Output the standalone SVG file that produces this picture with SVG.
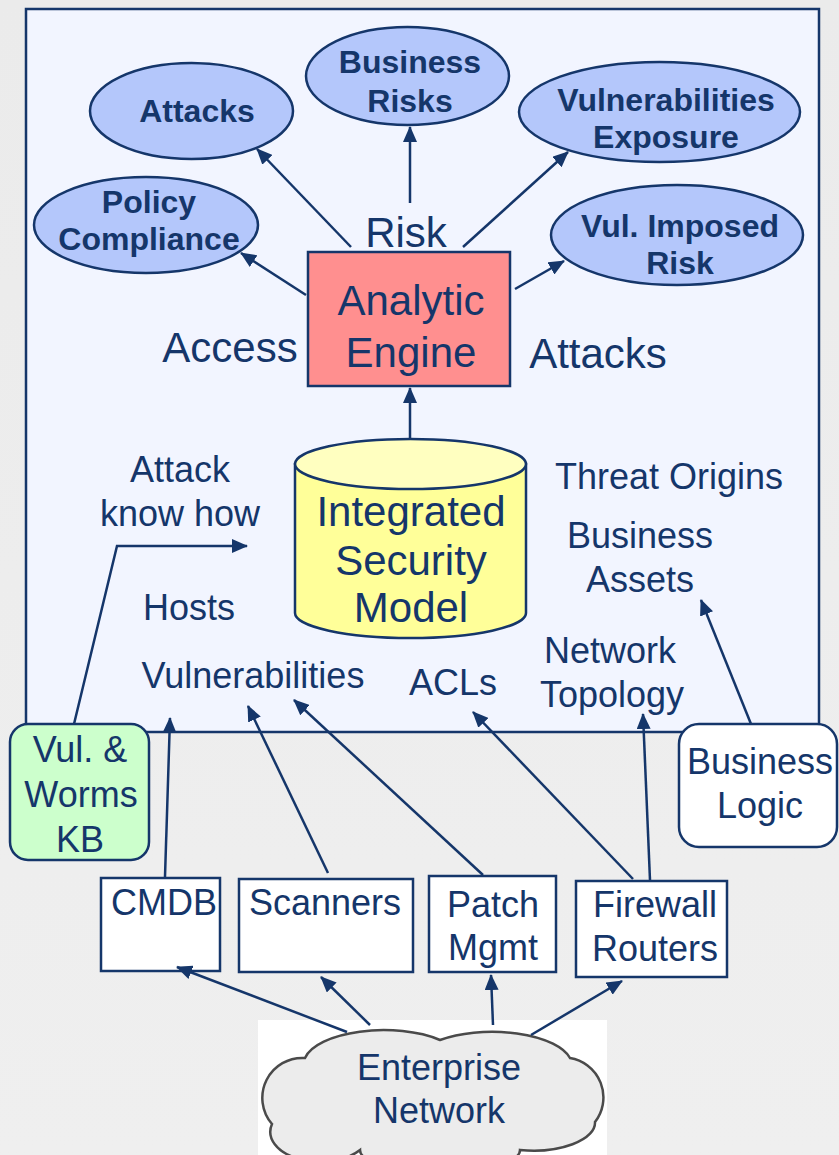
<svg xmlns="http://www.w3.org/2000/svg" width="839" height="1155" viewBox="0 0 839 1155">
<defs>
<linearGradient id="bg" x1="0" y1="0" x2="0" y2="1">
<stop offset="0" stop-color="#ebebeb"/>
<stop offset="1" stop-color="#efefef"/>
</linearGradient>
<marker id="ah" markerUnits="userSpaceOnUse" markerWidth="16" markerHeight="14" viewBox="0 0 16 14" refX="15" refY="7" orient="auto">
<path d="M0,0 L16,7 L0,14 Z" fill="#15366a"/>
</marker>
<style>
.t{font-family:"Liberation Sans",Arial,sans-serif;fill:#15366a;text-anchor:middle}
.b{font-weight:bold;font-size:32px}
.l{font-size:42px}
.m{font-size:36px}
.ell{fill:#b4c7fb;stroke:#15366a;stroke-width:2.5}
.box{fill:#ffffff;stroke:#15366a;stroke-width:2.5}
.c{fill:none;stroke:#15366a;stroke-width:2.5;marker-end:url(#ah)}
</style>
</defs>
<rect width="839" height="1155" fill="url(#bg)"/>
<rect id="panel" x="26" y="9" width="793" height="723" fill="#f2f5ff" stroke="#15366a" stroke-width="2.5"/>

<g id="attacks"><ellipse class="ell" cx="191.5" cy="111" rx="101.5" ry="48"/><text class="t b" x="197" y="122">Attacks</text></g>
<g id="business-risks"><ellipse class="ell" cx="407.5" cy="76" rx="101.5" ry="49"/><text class="t b" x="410" y="73">Business</text><text class="t b" x="410" y="112">Risks</text></g>
<g id="vuln-exposure"><ellipse class="ell" cx="659.5" cy="112" rx="140.5" ry="50"/><text class="t b" x="666" y="111">Vulnerabilities</text><text class="t b" x="666" y="148">Exposure</text></g>
<g id="vul-imposed-risk"><ellipse class="ell" cx="677" cy="235" rx="126" ry="50"/><text class="t b" x="680" y="237">Vul. Imposed</text><text class="t b" x="680" y="274">Risk</text></g>
<g id="policy-compliance"><ellipse class="ell" cx="146" cy="225" rx="112" ry="48"/><text class="t b" x="149" y="213">Policy</text><text class="t b" x="149" y="250">Compliance</text></g>

<g id="analytic-engine"><rect x="308" y="252" width="202" height="134" fill="#ff8f8f" stroke="#15366a" stroke-width="2.5"/><text class="t l" x="411" y="315">Analytic</text><text class="t l" x="411" y="367">Engine</text></g>

<g id="integrated-security-model">
<path d="M295,464 L295,613 A115.5,25 0 0 0 526,613 L526,464 Z" fill="#ffff99" stroke="#15366a" stroke-width="2.5"/>
<ellipse cx="410.5" cy="464" rx="115.5" ry="25" fill="#ffffc0" stroke="#15366a" stroke-width="2.5"/>
<text class="t l" x="411" y="526">Integrated</text><text class="t l" x="411" y="575">Security</text><text class="t l" x="411" y="622">Model</text>
</g>

<g id="labels">
<text class="t l" x="406" y="247">Risk</text>
<text class="t l" x="230" y="362">Access</text>
<text class="t l" x="598" y="368">Attacks</text>
<text class="t m" x="180" y="482">Attack</text>
<text class="t m" x="180" y="526">know how</text>
<text class="t m" x="669" y="489">Threat Origins</text>
<text class="t m" x="640" y="548">Business</text>
<text class="t m" x="640" y="592">Assets</text>
<text class="t m" x="189" y="620">Hosts</text>
<text class="t m" x="253" y="688">Vulnerabilities</text>
<text class="t m" x="453" y="695">ACLs</text>
<text class="t m" x="610" y="663">Network</text>
<text class="t m" x="612" y="707">Topology</text>
</g>

<g id="vul-worms-kb"><rect x="10" y="724" width="139" height="136" rx="18" fill="#ccffcc" stroke="#15366a" stroke-width="2.5"/><text class="t m" x="80" y="762">Vul. &amp;</text><text class="t m" x="81" y="807">Worms</text><text class="t m" x="80" y="852">KB</text></g>
<g id="business-logic"><rect x="679" y="724" width="158" height="123" rx="20" class="box"/><text class="t m" x="760" y="774">Business</text><text class="t m" x="760" y="818">Logic</text></g>

<g id="cmdb"><rect x="101" y="878" width="119" height="93" class="box"/><text class="t m" x="164" y="915">CMDB</text></g>
<g id="scanners"><rect x="239" y="879" width="174" height="93" class="box"/><text class="t m" x="325" y="915">Scanners</text></g>
<g id="patch-mgmt"><rect x="429" y="876" width="127" height="96" class="box"/><text class="t m" x="493" y="917">Patch</text><text class="t m" x="493" y="960">Mgmt</text></g>
<g id="firewall-routers"><rect x="576" y="881" width="151" height="96" class="box"/><text class="t m" x="655" y="917">Firewall</text><text class="t m" x="655" y="961">Routers</text></g>

<g id="enterprise-network">
<rect x="258" y="1020" width="349" height="135" fill="#ffffff"/>
<path d="M305,1058 A80,34 0 0 1 440,1040 A80,34 0 0 1 570,1058 A40,40 0 0 1 595,1122 A62,28 0 0 1 520,1150 A80,22 0 0 1 360,1150 A50,30 0 0 1 272,1124 A40,40 0 0 1 305,1058 Z" fill="#ececec" stroke="#4a4a4a" stroke-width="2.5"/>
<text class="t m" x="439" y="1080">Enterprise</text><text class="t m" x="439" y="1123">Network</text>
</g>

<g id="connectors">
<line class="c" x1="351" y1="247" x2="257" y2="149"/>
<line class="c" x1="306" y1="295" x2="241" y2="253"/>
<line class="c" x1="410" y1="203" x2="410" y2="127"/>
<line class="c" x1="463" y1="247" x2="568" y2="152"/>
<line class="c" x1="515" y1="289" x2="564" y2="261"/>
<line class="c" x1="410" y1="439" x2="410" y2="388"/>
<polyline class="c" points="74,724 117,546 247,546"/>
<line class="c" x1="165" y1="877" x2="170" y2="718"/>
<line class="c" x1="328" y1="873" x2="248" y2="706"/>
<line class="c" x1="483" y1="875" x2="294" y2="700"/>
<line class="c" x1="633" y1="879" x2="473" y2="712"/>
<line class="c" x1="650" y1="880" x2="643" y2="714"/>
<line class="c" x1="751" y1="724" x2="701" y2="600"/>
<line class="c" x1="347" y1="1032" x2="177" y2="967"/>
<line class="c" x1="370" y1="1025" x2="321" y2="977"/>
<line class="c" x1="493" y1="1025" x2="491" y2="975"/>
<line class="c" x1="531" y1="1035" x2="622" y2="981"/>
</g>
</svg>
